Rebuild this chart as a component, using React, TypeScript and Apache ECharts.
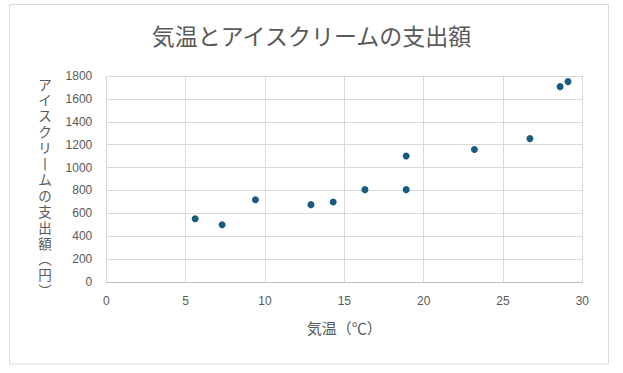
import React, { useEffect, useRef } from "react";
import * as echarts from "echarts";

const temperature = [5.6, 7.3, 9.4, 12.9, 14.3, 16.3, 18.9, 18.9, 23.2, 26.7, 28.6, 29.1];
const spending = [553, 501, 719, 676, 699, 807, 807, 1101, 1157, 1253, 1707, 1751];
const titleText = "気温とアイスクリームの支出額";
const xName = "気温（℃）";
const yNameChars = ["ア", "イ", "ス", "ク", "リ", "丨", "ム", "の", "支", "出", "額", "︵", "円", "︶"];

export default function App() {
  const ref = useRef<HTMLDivElement>(null);
  useEffect(() => {
    const chart = echarts.init(ref.current!, null, { renderer: "svg" });
    const font = "'Noto Sans CJK JP', 'Noto Sans', sans-serif";
    const data = temperature.map((t, i) => [t, spending[i]]);
    const yNameGraphics = yNameChars.map((c, i) => ({
      type: "text",
      x: 45,
      y: 83.5 + i * 15.9,
      style: {
        text: c,
        fontSize: 13.5,
        lineHeight: 14,
        fill: "#595959",
        align: "center",
        verticalAlign: "middle",
        fontFamily: font,
      },
    }));
    chart.setOption({
      animation: false,
      backgroundColor: "#ffffff",
      title: {
        text: titleText,
        left: "center",
        top: 18,
        textStyle: { fontSize: 23, fontWeight: "normal", color: "#595959", fontFamily: font },
      },
      grid: { left: 106.3, right: 40.7, top: 76, bottom: 91, containLabel: false },
      xAxis: {
        type: "value",
        min: 0,
        max: 30,
        interval: 5,
        name: xName,
        nameLocation: "middle",
        nameGap: 38,
        nameTextStyle: { fontSize: 15, color: "#595959", fontFamily: font },
        axisLine: { show: true, lineStyle: { color: "#bfbfbf", width: 1 } },
        axisTick: { show: false },
        axisLabel: { fontSize: 12, color: "#595959", margin: 13, fontFamily: "'Liberation Sans', Arial, sans-serif" },
        splitLine: { show: true, lineStyle: { color: "#d9d9d9", width: 1 } },
      },
      yAxis: {
        type: "value",
        min: 0,
        max: 1800,
        interval: 200,
        axisLine: { show: true, lineStyle: { color: "#d9d9d9", width: 1 } },
        axisTick: { show: false },
        axisLabel: {
          fontSize: 12,
          color: "#595959",
          margin: 14,
          fontFamily: "'Liberation Sans', Arial, sans-serif",
          formatter: (v: number) => String(v),
        },
        splitLine: { show: true, lineStyle: { color: "#d9d9d9", width: 1 } },
      },
      graphic: [
        {
          type: "rect",
          shape: { x: 9.5, y: 4.5, width: 599, height: 359.5 },
          style: { fill: "none", stroke: "#d9d9d9", lineWidth: 1 },
          z: 100,
        },
        ...yNameGraphics,
      ],
      series: [
        {
          type: "scatter",
          data,
          symbol: "circle",
          symbolSize: 7,
          itemStyle: { color: "#185d80", opacity: 1 },
        },
      ],
    });
    return () => chart.dispose();
  }, []);
  return (
    <div
      ref={ref}
      style={{ position: "absolute", left: 0, top: 0, width: 623, height: 373 }}
    />
  );
}
